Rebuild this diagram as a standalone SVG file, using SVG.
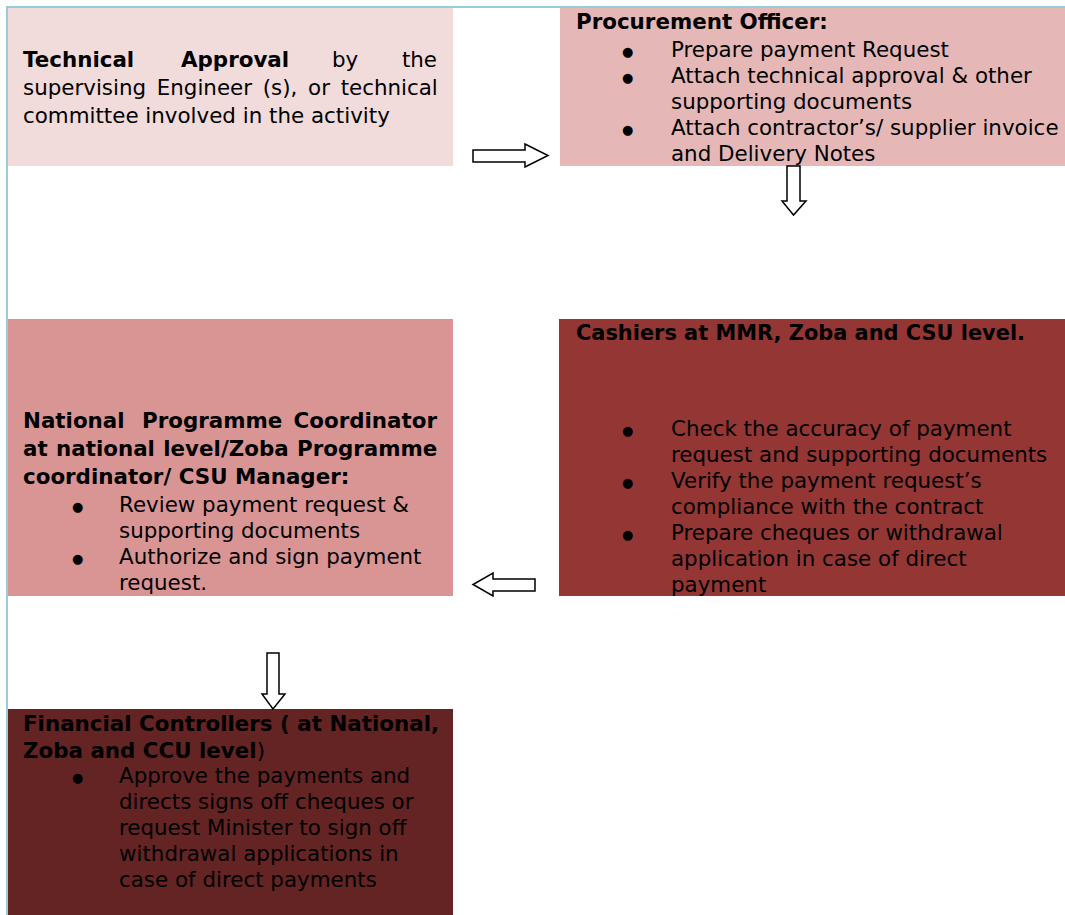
<svg xmlns="http://www.w3.org/2000/svg" width="1065" height="915" viewBox="0 0 1065 915">
<style>
text{font-family:"DejaVu Sans","Verdana",sans-serif;font-size:21.4px;fill:#000}
.b{font-weight:bold}
.bul{font-size:13px}
.e{text-anchor:end}
.arrow{fill:#fff;stroke:#000;stroke-width:1.5;stroke-linejoin:miter}
.frame{stroke:#92cddc;stroke-width:2;fill:none}
</style>
<rect width="1065" height="915" fill="#fff"/>
<path class="frame" d="M7,915 V7 H1065"/>
<g id="technical-approval">
<rect x="8" y="8" width="445" height="158" fill="#f2dbdb"/>
<text x="23" y="67" class="b">Technical</text>
<text x="181" y="67" class="b">Approval</text>
<text x="332" y="67">by</text>
<text x="437" y="67" class="e">the</text>
<text x="23" y="95" word-spacing="3.9">supervising Engineer (s), or technical</text>
<text x="23" y="123">committee involved in the activity</text>
</g>
<g id="procurement-officer">
<rect x="560" y="8" width="505" height="158" fill="#e5b8b7"/>
<text x="576" y="29" class="b">Procurement Officer:</text>
<text x="622" y="56" class="bul">●</text>
<text x="671" y="57">Prepare payment Request</text>
<text x="622" y="82" class="bul">●</text>
<text x="671" y="83">Attach technical approval &amp; other</text>
<text x="671" y="109">supporting documents</text>
<text x="622" y="134" class="bul">●</text>
<text x="671" y="135">Attach contractor’s/ supplier invoice</text>
<text x="671" y="161">and Delivery Notes</text>
</g>
<g id="programme-coordinator">
<rect x="8" y="319" width="445" height="277" fill="#d99594"/>
<text x="23" y="428" class="b">National</text>
<text x="142" y="428" class="b">Programme</text>
<text x="437" y="428" class="b e">Coordinator</text>
<text x="23" y="456" class="b" word-spacing="0.9">at national level/Zoba Programme</text>
<text x="23" y="484" class="b">coordinator/ CSU Manager:</text>
<text x="72" y="511" class="bul">●</text>
<text x="119" y="512">Review payment request &amp;</text>
<text x="119" y="538">supporting documents</text>
<text x="72" y="563" class="bul">●</text>
<text x="119" y="564">Authorize and sign payment</text>
<text x="119" y="590">request.</text>
</g>
<g id="cashiers">
<rect x="559" y="319" width="506" height="277" fill="#943634"/>
<text x="576" y="340" class="b" textLength="449" lengthAdjust="spacingAndGlyphs">Cashiers at MMR, Zoba and CSU level.</text>
<text x="622" y="435" class="bul">●</text>
<text x="671" y="436">Check the accuracy of payment</text>
<text x="671" y="462">request and supporting documents</text>
<text x="622" y="487" class="bul">●</text>
<text x="671" y="488">Verify the payment request’s</text>
<text x="671" y="514">compliance with the contract</text>
<text x="622" y="539" class="bul">●</text>
<text x="671" y="540">Prepare cheques or withdrawal</text>
<text x="671" y="566">application in case of direct</text>
<text x="671" y="592">payment</text>
</g>
<g id="financial-controllers">
<rect x="8" y="709" width="445" height="206" fill="#632423"/>
<text x="23" y="731" class="b">Financial Controllers ( at National,</text>
<text x="23" y="758"><tspan class="b">Zoba and CCU level</tspan>)</text>
<text x="72" y="782" class="bul">●</text>
<text x="119" y="783">Approve the payments and</text>
<text x="119" y="809">directs signs off cheques or</text>
<text x="119" y="835">request Minister to sign off</text>
<text x="119" y="861">withdrawal applications in</text>
<text x="119" y="887">case of direct payments</text>
</g>
<g id="connectors">
<polygon class="arrow" points="473,150 525,150 525,144 548,155.5 525,167 525,162 473,162"/>
<polygon class="arrow" points="787,166 800,166 800,201 806,201 793.5,215 782,201 787,201"/>
<polygon class="arrow" points="535,579 493,579 493,573 473,584.5 493,596 493,591 535,591"/>
<polygon class="arrow" points="267,653 279,653 279,694 285,694 273,709 262,694 267,694"/>
</g>
</svg>
